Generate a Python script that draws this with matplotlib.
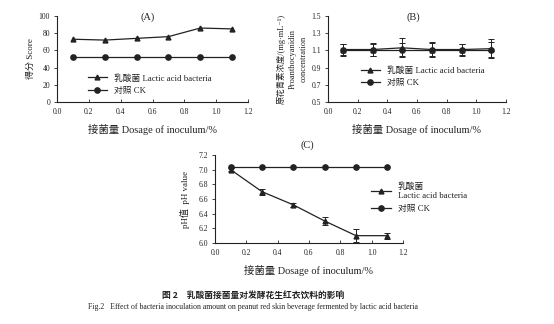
import matplotlib
matplotlib.use("Agg")
import matplotlib.pyplot as plt
from matplotlib.lines import Line2D

plt.rcParams['font.family'] = ['Liberation Serif', 'Noto Sans CJK SC', 'DejaVu Sans']
plt.rcParams['axes.unicode_minus'] = False

dosage = [0.1, 0.3, 0.5, 0.7, 0.9, 1.1]
x_ticks = [0.0, 0.2, 0.4, 0.6, 0.8, 1.0, 1.2]

score_lab = [73, 72, 74, 76, 86, 85]
score_ck = [52, 52, 52, 52, 52, 52]

pc_lab = [1.11, 1.11, 1.13, 1.11, 1.11, 1.12]
pc_lab_err = [0.07, 0.08, 0.11, 0.09, 0.07, 0.11]
pc_ck = [1.11, 1.11, 1.11, 1.11, 1.11, 1.11]
pc_ck_err = [0.06, 0.07, 0.08, 0.08, 0.06, 0.09]

ph_lab = [7.00, 6.70, 6.52, 6.30, 6.10, 6.10]
ph_lab_err = [0.02, 0.04, 0.03, 0.06, 0.09, 0.04]
ph_ck = [7.04, 7.04, 7.04, 7.04, 7.04, 7.04]

lab_name = "乳酸菌 Lactic acid bacteria"
ck_name = "对照 CK"
xlabel = "接菌量 Dosage of inoculum/%"

W, H = 554, 324
fig = plt.figure(figsize=(W / 100, H / 100), dpi=100)

def px_axes(x0, x1, ytop, ybot):
    return fig.add_axes([x0 / W, 1 - ybot / H, (x1 - x0) / W, (ybot - ytop) / H])

col = '#222222'
tfs = 5.5

def style(ax, ylim, yticks, yfmt):
    ax.set_xlim(0, 1.2)
    ax.set_ylim(*ylim)
    ax.set_xticks(x_ticks)
    ax.set_xticklabels([f"{v:.1f}" for v in x_ticks])
    ax.set_yticks(yticks)
    ax.set_yticklabels([yfmt.format(v) for v in yticks])
    for s in ['top', 'right']:
        ax.spines[s].set_visible(False)
    for s in ['left', 'bottom']:
        ax.spines[s].set_linewidth(0.8)
        ax.spines[s].set_color(col)
    ax.tick_params(axis='x', direction='in', length=2, width=0.6, labelsize=tfs, colors=col, pad=4)
    ax.tick_params(axis='y', direction='out', length=2, width=0.6, labelsize=tfs, colors=col, pad=3)
    ax.set_xlabel(xlabel, fontsize=7.5, color=col, labelpad=6)
    ax.patch.set_alpha(0)

def handles():
    return [Line2D([], [], color=col, lw=0.9, marker='^', ms=3.5),
            Line2D([], [], color=col, lw=0.9, marker='o', ms=3.8)]

# Panel A
axA = px_axes(57, 248, 16, 102)
axA.plot(dosage, score_lab, color=col, lw=0.9, marker='^', ms=3.5)
axA.plot(dosage, score_ck, color=col, lw=0.9, marker='o', ms=3.8)
style(axA, (0, 100), [0, 20, 40, 60, 80, 100], "{:d}")
axA.set_ylabel("得分 Score", fontsize=6.5, color=col, labelpad=3)
fig.text(148 / W, 1 - 17 / H, "(A)", ha='center', va='center', fontsize=7.5, color=col)
axA.legend(handles(), [lab_name, ck_name], loc='lower left', bbox_to_anchor=(0.12, -0.01),
           frameon=False, fontsize=6.3, handlelength=2.2, labelspacing=0.5,
           labelcolor=col)

# Panel B
axB = px_axes(328, 506, 16, 102)
axB.errorbar(dosage, pc_lab, yerr=pc_lab_err, color=col, lw=0.9, marker='^', ms=3.5,
             capsize=2, elinewidth=0.7, capthick=0.7)
axB.errorbar(dosage, pc_ck, yerr=pc_ck_err, color=col, lw=0.9, marker='o', ms=3.8,
             capsize=2, elinewidth=0.7, capthick=0.7)
style(axB, (0.5, 1.5), [0.5, 0.7, 0.9, 1.1, 1.3, 1.5], "{:.1f}")
axB.set_ylabel("原花青素浓度/(mg·mL⁻¹)\nProanthocyanidin\nconcentration",
               fontsize=6, color=col, labelpad=3, linespacing=1.45)
fig.text(413 / W, 1 - 17 / H, "(B)", ha='center', va='center', fontsize=7.5, color=col)
axB.legend(handles(), [lab_name, ck_name], loc='lower left', bbox_to_anchor=(0.14, 0.08),
           frameon=False, fontsize=6.3, handlelength=2.2, labelspacing=0.5,
           labelcolor=col)

# Panel C
axC = px_axes(215, 403, 155, 243)
axC.errorbar(dosage, ph_lab, yerr=ph_lab_err, color=col, lw=0.9, marker='^', ms=3.5,
             capsize=2, elinewidth=0.7, capthick=0.7)
axC.plot(dosage, ph_ck, color=col, lw=0.9, marker='o', ms=3.8)
style(axC, (6.0, 7.2), [6.0, 6.2, 6.4, 6.6, 6.8, 7.0, 7.2], "{:.1f}")
axC.set_ylabel("pH值  pH value", fontsize=6.5, color=col, labelpad=6)
fig.text(307 / W, 1 - 145 / H, "(C)", ha='center', va='center', fontsize=7.5, color=col)
axC.legend(handles(), ["乳酸菌\nLactic acid bacteria", ck_name], loc='upper left',
           bbox_to_anchor=(0.79, 0.78), frameon=False, fontsize=6.3,
           handlelength=2.2, labelspacing=0.6, labelcolor=col)

# Caption
fig.text(253 / W, 1 - 295 / H, "图 2　乳酸菌接菌量对发酵花生红衣饮料的影响",
         ha='center', va='center', fontsize=6.3, color=col, fontweight='bold',
         family=['Noto Sans CJK SC'])
fig.text(253 / W, 1 - 307 / H,
         "Fig.2   Effect of bacteria inoculation amount on peanut red skin beverage fermented by lactic acid bacteria",
         ha='center', va='center', fontsize=5.6, color=col)

fig.savefig("out.png", dpi=100)
